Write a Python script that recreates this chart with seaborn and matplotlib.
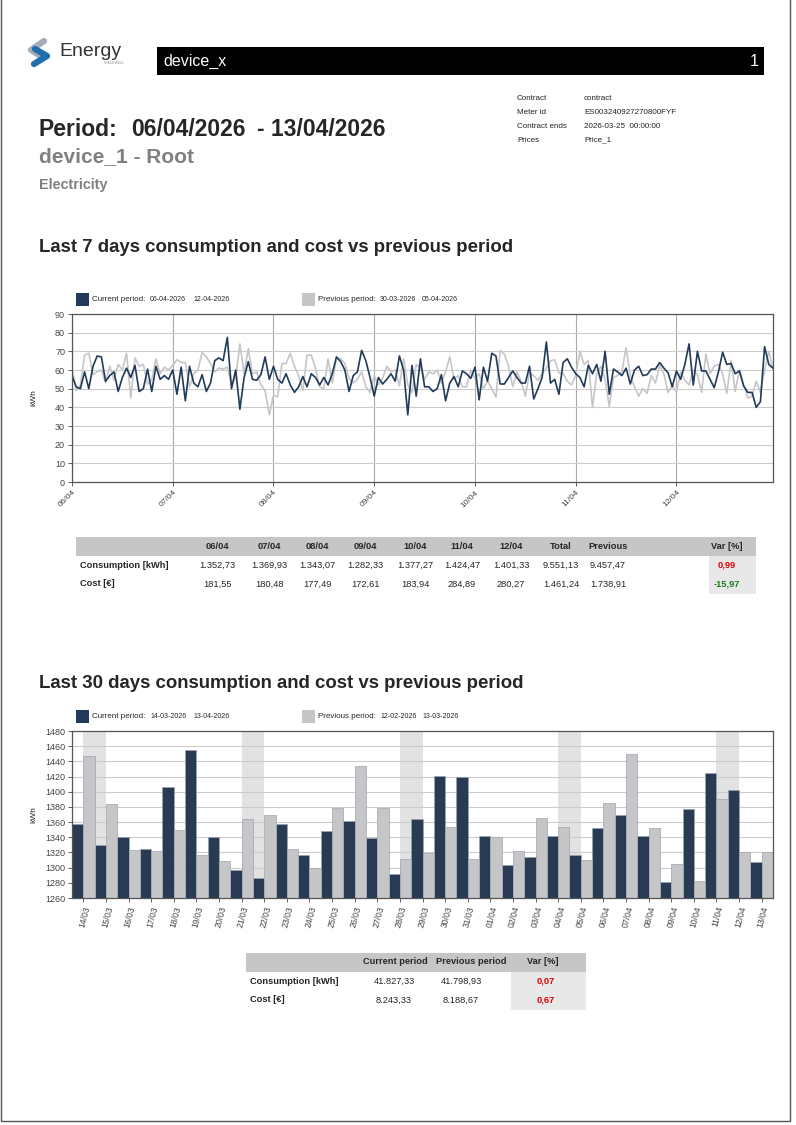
import seaborn as sns
import matplotlib.pyplot as plt
import matplotlib.patches as mpatches
from matplotlib.lines import Line2D
import pandas as pd

# hourly consumption [kWh], current week 06/04-12/04 and previous week 30/03-05/04
current_hourly = [
    57, 51, 50, 59, 50, 62, 67.5, 67, 54, 57, 59, 48.5, 56, 61, 56, 62.5, 48.5, 50, 60.5, 48.5, 62, 55, 57, 55,
    60, 47, 61.5, 43.5, 62, 53, 51, 57.5, 48.5, 53, 65, 66.5, 65, 77.5, 50, 60, 39, 56, 64.5, 55, 54.5, 57.5, 67, 55,
    62, 55, 53, 58, 52, 48, 51, 56.5, 51, 58, 56, 52, 56, 52, 58, 67, 64.5, 60, 48.5, 57, 59, 70.5, 65, 56,
    46, 56, 52.5, 55, 58, 54, 67.5, 60, 36, 62.5, 46, 66, 51, 51, 48.5, 50, 57.5, 43.5, 53, 56.5, 51, 59.5, 58, 55.5,
    61.5, 44, 61.5, 54, 69, 67.5, 52.5, 52.5, 56, 59.5, 56, 53, 53, 62, 44.5, 50, 56, 75, 53, 55, 47, 64, 66, 61.5,
    58, 56, 51, 62.5, 58, 63, 54, 70, 47, 60.5, 59, 57, 61, 52.5, 60, 62, 57, 57.5, 60.5, 60.5, 64, 61, 58.5, 51,
    59.5, 55, 63, 74, 52, 70, 59.5, 59.5, 55, 50.5, 59, 69.5, 63, 63.5, 58, 59.5, 51.5, 48, 48, 40, 43, 72.5, 63, 61,
]
previous_hourly = [
    61, 49, 52, 68, 69, 57.5, 59, 60, 53, 62, 54.5, 63, 60, 69, 45, 66.5, 62, 63, 52.5, 55, 66, 58, 61.5, 60,
    62.5, 65.5, 64, 64, 51, 58, 60, 69.5, 67, 63.5, 59, 61, 60.5, 61.5, 52, 56, 74, 58, 71.5, 58, 59, 52, 49, 36,
    46.5, 45.5, 63.5, 63.5, 69, 62, 57, 49, 68, 68, 61, 51, 50, 66, 53, 66.5, 66, 63.5, 55.5, 53, 55, 59, 51, 48,
    57, 52, 55.5, 62, 59, 60, 51.5, 66, 52, 48, 63, 61, 55, 59, 58, 60, 53, 59, 67, 55, 57, 51, 51, 60,
    55.5, 58, 50, 54, 50, 45.5, 70.5, 68.5, 62, 51, 59, 54, 46, 58.5, 57, 54.5, 58, 61, 65, 65.5, 58.5, 58, 54, 52,
    57, 70, 63, 65, 40, 58, 62, 55, 40.5, 56, 57, 59, 72, 57, 51, 46, 50, 47.5, 57, 53, 62.5, 58, 48, 52,
    48, 59, 54.5, 52, 60, 57.5, 48, 68.5, 58, 62, 63, 58, 47.5, 65, 48.5, 60, 52, 45, 46, 54, 48, 60, 70, 60.5,
]
week_days = ["06/04", "07/04", "08/04", "09/04", "10/04", "11/04", "12/04"]

# daily consumption [kWh], last 30 days vs previous 30 days
month_days = ["14/03", "15/03", "16/03", "17/03", "18/03", "19/03", "20/03", "21/03", "22/03", "23/03",
              "24/03", "25/03", "26/03", "27/03", "28/03", "29/03", "30/03", "31/03", "01/04", "02/04",
              "03/04", "04/04", "05/04", "06/04", "07/04", "08/04", "09/04", "10/04", "11/04", "12/04", "13/04"]
current_daily = [1357, 1330, 1340, 1324, 1406, 1455, 1340, 1297, 1287, 1358, 1316, 1348, 1361, 1339, 1291,
                 1364, 1421, 1419, 1342, 1303, 1314, 1342, 1317, 1352, 1370, 1342, 1281, 1377, 1425, 1402, 1307]
previous_daily = [1447, 1384, 1323, 1322, 1349, 1316, 1309, 1364, 1370, 1325, 1299, 1378, 1434, 1378, 1312,
                  1319, 1354, 1312, 1340, 1322, 1366, 1354, 1310, 1385, 1450, 1352, 1305, 1283, 1390, 1321, 1321]
weekend_starts = ["14/03", "21/03", "28/03", "04/04", "11/04"]

# summary tables
week_cols = week_days + ["Total", "Previous", "Var [%]"]
week_cons = ["1.352,73", "1.369,93", "1.343,07", "1.282,33", "1.377,27", "1.424,47", "1.401,33", "9.551,13", "9.457,47", "0,99"]
week_cost = ["181,55", "180,48", "177,49", "172,61", "183,94", "284,89", "280,27", "1.461,24", "1.738,91", "-15,97"]
month_cols = ["Current period", "Previous period", "Var [%]"]
month_cons = ["41.827,33", "41.798,93", "0,07"]
month_cost = ["8.243,33", "8.188,67", "0,67"]

DARK = "#213a5a"
LIGHT = "#c6c6c8"
W, H = 796, 1125

sns.set_style("white")
plt.rcParams['font.family'] = ['Liberation Sans', 'DejaVu Sans']

fig = plt.figure(figsize=(W / 100, H / 100), dpi=100)


def fx(x):
    return x / W


def fy(y):
    return 1 - y / H


def txt(x, y, s, **kw):
    kw.setdefault("va", "center")
    fig.text(fx(x), fy(y), s, **kw)


def box(x0, y0, x1, y1, **kw):
    fig.add_artist(mpatches.Rectangle((fx(x0), fy(y1)), (x1 - x0) / W, (y1 - y0) / H,
                                      transform=fig.transFigure, **kw))


# page frame
box(1, -2, 790, 1121, facecolor="none", edgecolor="#555555", lw=1)

# logo + header bar
fig.add_artist(Line2D([fx(44), fx(31), fx(39)], [fy(41), fy(50), fy(55)], transform=fig.transFigure,
                      color="#a3adb9", lw=4.5, solid_capstyle="round", solid_joinstyle="round"))
fig.add_artist(Line2D([fx(35), fx(47), fx(34)], [fy(49), fy(56), fy(64)], transform=fig.transFigure,
                      color="#1f6fae", lw=4.5, solid_capstyle="round", solid_joinstyle="round"))
txt(59, 51, "Energy", fontsize=14, color="#333333")
txt(125, 63, "SPACEWELL", fontsize=2.5, color="#888888", ha="right")
box(157, 47, 764, 75, facecolor="black", edgecolor="none")
txt(163, 61, "device_x", fontsize=11.5, color="white")
txt(759, 61, "1", fontsize=11.5, color="white", ha="right")

# contract info
for i, (k, v) in enumerate([("Contract", "contract"), ("Meter id", "ES003240927270800FYF"),
                            ("Contract ends", "2026-03-25  00:00:00"), ("Prices", "Price_1")]):
    txt(517, 98 + 14 * i, k, fontsize=5.8, color="#222222")
    txt(584, 98 + 14 * i, v, fontsize=5.8, color="#222222")

txt(39, 129, "Period:", fontsize=16.5, fontweight="bold")
txt(131, 129, "06/04/2026", fontsize=16.5, fontweight="bold")
txt(257, 129, "- 13/04/2026", fontsize=16.5, fontweight="bold")
txt(39, 157, "device_1 - Root", fontsize=15, fontweight="bold", color="#808080")
txt(39, 185, "Electricity", fontsize=10.4, fontweight="bold", color="#808080")

txt(39, 248, "Last 7 days consumption and cost vs previous period", fontsize=13.4, fontweight="bold")
txt(39, 683, "Last 30 days consumption and cost vs previous period", fontsize=13.4, fontweight="bold")


def legend(y, cur_dates, prev_dates):
    box(76, y - 6.5, 89, y + 6.5, facecolor=DARK, edgecolor="none")
    txt(92, y, "Current period:", fontsize=5.8)
    txt(150, y, cur_dates[0], fontsize=5)
    txt(193, y, cur_dates[1], fontsize=5)
    box(302, y - 6.5, 315, y + 6.5, facecolor=LIGHT, edgecolor="none")
    txt(318, y, "Previous period:", fontsize=5.8)
    txt(380, y, prev_dates[0], fontsize=5)
    txt(422, y, prev_dates[1], fontsize=5)


legend(299.5, ("06-04-2026", "12-04-2026"), ("30-03-2026", "05-04-2026"))
legend(716, ("14-03-2026", "13-04-2026"), ("12-02-2026", "13-03-2026"))

# ---- hourly line chart ----
ax1 = fig.add_axes([fx(72), fy(482), 701 / W, 168 / H])
n = len(current_hourly)
line_df = pd.DataFrame({
    "hour": list(range(n)) * 2,
    "kWh": current_hourly + previous_hourly,
    "period": ["Current"] * n + ["Previous"] * n,
})
sns.lineplot(data=line_df, x="hour", y="kWh", hue="period", hue_order=["Previous", "Current"],
             palette={"Current": DARK, "Previous": LIGHT}, ax=ax1, legend=False, linewidth=1.2)
ax1.set_xlim(0, n - 1)
ax1.set_ylim(0, 90)
ax1.set_yticks(range(0, 91, 10))
ax1.set_xticks([24 * i for i in range(len(week_days))])
ax1.set_xticklabels(week_days, rotation=45, ha="right", rotation_mode="anchor")
ax1.set_xlabel("")
ax1.set_ylabel("kWh", fontsize=6)
ax1.yaxis.set_label_coords(-0.05, 0.5)
ax1.set_axisbelow(True)
ax1.yaxis.grid(True, color="#cccccc", lw=0.8)
ax1.xaxis.grid(True, color="#aaaaaa", lw=0.8)
ax1.tick_params(axis="both", labelsize=6.5, colors="#444444", length=3, width=0.6, direction="out", pad=2)
ax1.tick_params(axis="x", labelsize=6)
ax1.tick_params(axis="y", left=True)
ax1.tick_params(axis="x", bottom=True)
for s in ax1.spines.values():
    s.set_color("#555555")
    s.set_linewidth(0.9)

# ---- daily bar chart ----
ax2 = fig.add_axes([fx(72), fy(898), 701 / W, 167 / H])
bar_df = pd.DataFrame({
    "day": month_days * 2,
    "kWh": current_daily + previous_daily,
    "period": ["Current"] * len(month_days) + ["Previous"] * len(month_days),
})
for d in weekend_starts:
    i = month_days.index(d)
    ax2.axvspan(i, i + 1, color="#e2e2e2", zorder=0.2, lw=0)
sns.barplot(data=bar_df, x="day", y="kWh", hue="period", hue_order=["Current", "Previous"],
            palette={"Current": DARK, "Previous": LIGHT}, width=1.0, gap=0, ax=ax2, legend=False,
            edgecolor="#9aa5b1", linewidth=0.5, zorder=1)
ax2.set_xlim(-0.5, len(month_days) - 0.5)
ax2.set_ylim(1260, 1480)
ax2.set_yticks(range(1260, 1481, 20))
ax2.set_xticks(range(len(month_days)))
ax2.set_xticklabels(month_days, rotation=75, ha="right", rotation_mode="anchor")
ax2.set_xlabel("")
ax2.set_ylabel("kWh", fontsize=6)
ax2.yaxis.set_label_coords(-0.05, 0.5)
ax2.set_axisbelow(True)
ax2.yaxis.grid(True, color="#cccccc", lw=0.8, zorder=0.5)
ax2.tick_params(axis="both", labelsize=6.5, colors="#444444", length=3, width=0.6, direction="out", pad=2)
ax2.tick_params(axis="x", labelsize=6.2)
ax2.tick_params(axis="y", left=True)
ax2.tick_params(axis="x", bottom=True)
for s in ax2.spines.values():
    s.set_color("#555555")
    s.set_linewidth(0.9)

# ---- weekly table ----
box(76, 537, 756, 556, facecolor="#c6c6c6", edgecolor="none")
box(709, 556, 756, 594, facecolor="#e8e8e8", edgecolor="none")
col_x = [217, 269, 317, 365, 415, 462, 511, 561, 608, 727]
for x, c in zip(col_x, week_cols):
    txt(x, 546.5, c, fontsize=6.7, fontweight="bold", ha="center")
txt(80, 565, "Consumption [kWh]", fontsize=6.7, fontweight="bold")
txt(80, 584, "Cost [€]", fontsize=6.7, fontweight="bold")
for x, v in zip(col_x[:-1], week_cons[:-1]):
    txt(x, 565, v, fontsize=6.7, ha="center")
for x, v in zip(col_x[:-1], week_cost[:-1]):
    txt(x, 584, v, fontsize=6.7, ha="center")
txt(col_x[-1], 565, week_cons[-1], fontsize=6.7, ha="center", fontweight="bold", color="#e00000")
txt(col_x[-1], 584, week_cost[-1], fontsize=6.7, ha="center", fontweight="bold", color="#1a7a1a")

# ---- monthly table ----
box(246, 953, 586, 972, facecolor="#c6c6c6", edgecolor="none")
box(511, 972, 586, 1010, facecolor="#e8e8e8", edgecolor="none")
mhead_x = [395, 471, 543]
mcol_x = [394, 461, 546]
for x, c in zip(mhead_x, month_cols):
    txt(x, 962, c, fontsize=6.7, fontweight="bold", ha="center")
txt(250, 981, "Consumption [kWh]", fontsize=6.7, fontweight="bold")
txt(250, 1000, "Cost [€]", fontsize=6.7, fontweight="bold")
for x, v in zip(mcol_x[:2], month_cons[:2]):
    txt(x, 981, v, fontsize=6.7, ha="center")
for x, v in zip(mcol_x[:2], month_cost[:2]):
    txt(x, 1000, v, fontsize=6.7, ha="center")
txt(mcol_x[2], 981, month_cons[2], fontsize=6.7, ha="center", fontweight="bold", color="#e00000")
txt(mcol_x[2], 1000, month_cost[2], fontsize=6.7, ha="center", fontweight="bold", color="#e00000")

fig.savefig("out.png", dpi=100, facecolor="white")
